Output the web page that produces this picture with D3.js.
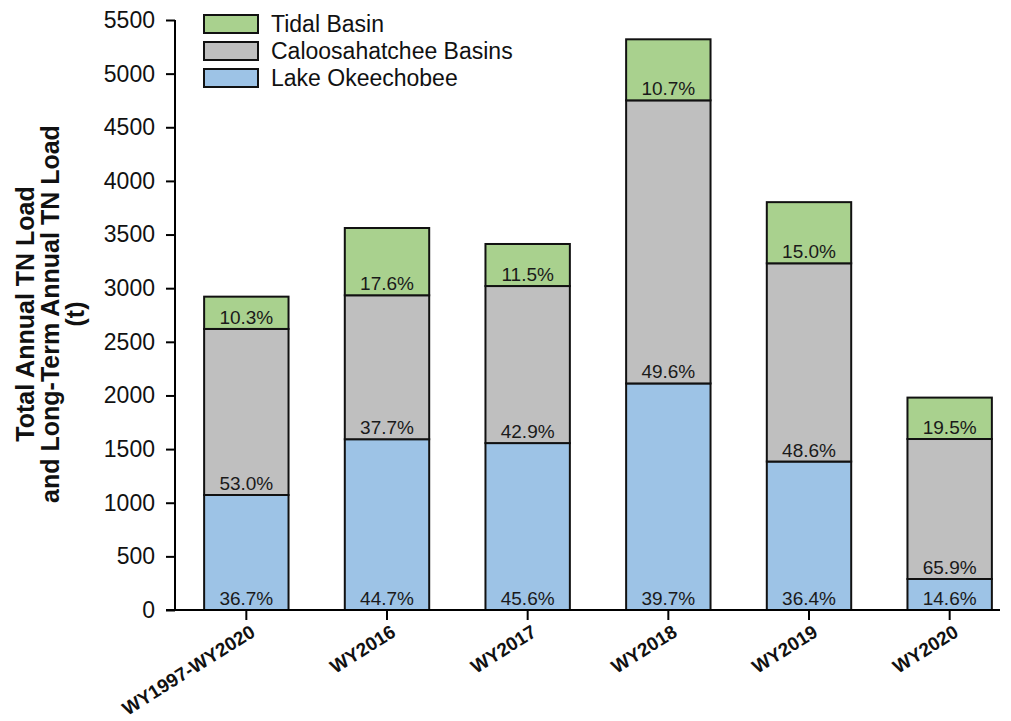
<!DOCTYPE html>
<html>
<head>
<meta charset="utf-8">
<script src="https://cdn.jsdelivr.net/npm/d3@7/dist/d3.min.js"></script>
<style>
  body{margin:0;background:#fff;}
  svg{font-family:Arial,"Liberation Sans",sans-serif;}
</style>
</head>
<body>
<svg id="chart"></svg>
<script>
var categories=['WY1997-WY2020','WY2016','WY2017','WY2018','WY2019','WY2020'];
// loads (t) per basin
var lakeLoad=[1072,1592,1556,2112,1384,289];
var caloosaLoad=[1548,1342,1464,2639,1848,1305];
var tidalLoad=[301,627,392,569,570,386];
// percent labels as printed
var lakePct=['36.7%','44.7%','45.6%','39.7%','36.4%','14.6%'];
var caloosaPct=['53.0%','37.7%','42.9%','49.6%','48.6%','65.9%'];
var tidalPct=['10.3%','17.6%','11.5%','10.7%','15.0%','19.5%'];
var yTicks=[0,500,1000,1500,2000,2500,3000,3500,4000,4500,5000,5500];
var seriesNames=['Tidal Basin','Caloosahatchee Basins','Lake Okeechobee'];

var W=1011,H=721;
var colors={lake:'#9dc3e6',caloosa:'#bfbfbf',tidal:'#a9d18e'};

var svg=d3.select('#chart').attr('width',W).attr('height',H);
var g=svg.append('g');

var y=d3.scaleLinear().domain([0,5500]).range([610,20]);
var x=d3.scaleBand().domain(categories).range([176,1020]).paddingInner(0.4).paddingOuter(0.2);

var rows=categories.map(function(c,i){
  return {cat:c,lake:lakeLoad[i],caloosa:caloosaLoad[i],tidal:tidalLoad[i]};
});
var stack=d3.stack().keys(['lake','caloosa','tidal']);
var layers=stack(rows);
var pcts={lake:lakePct,caloosa:caloosaPct,tidal:tidalPct};

layers.forEach(function(layer){
  var key=layer.key;
  g.selectAll('rect.'+key).data(layer).enter().append('rect')
    .attr('class',key)
    .attr('x',function(d){return x(d.data.cat);})
    .attr('width',x.bandwidth())
    .attr('y',function(d){return y(d[1]);})
    .attr('height',function(d){return y(d[0])-y(d[1]);})
    .attr('fill',colors[key])
    .attr('stroke','#111')
    .attr('stroke-width',2);
  g.selectAll('text.'+key).data(layer).enter().append('text')
    .attr('x',function(d){return x(d.data.cat)+x.bandwidth()/2;})
    .attr('y',function(d){return y(d[0])-5;})
    .attr('text-anchor','middle')
    .attr('font-size',19)
    .attr('fill','#1a1a1a')
    .text(function(d,i){return pcts[key][i];});
});

// y axis
var yAxis=d3.axisLeft(y).tickValues(yTicks).tickSize(9).tickPadding(11).tickFormat(d3.format('d'));
var ya=g.append('g').attr('transform','translate(175,0)').call(yAxis);
ya.select('.domain').attr('stroke','#000').attr('stroke-width',2).attr('d','M0,20V610');
ya.selectAll('.tick line').attr('stroke','#000').attr('stroke-width',2);
ya.selectAll('.tick text').attr('font-size',23).attr('fill','#111').attr('font-family','Arial,"Liberation Sans",sans-serif');

// x axis
var xAxis=d3.axisBottom(x).tickSize(10).tickFormat('');
var xa=g.append('g').attr('transform','translate(0,610)').call(xAxis);
xa.select('.domain').attr('stroke','#000').attr('stroke-width',2).attr('d','M166,0H1000');
xa.selectAll('.tick line').attr('stroke','#000').attr('stroke-width',2);

g.selectAll('text.xlab').data(categories).enter().append('text')
  .attr('class','xlab')
  .attr('transform',function(d){return 'translate('+(x(d)+x.bandwidth()/2+3)+',624) rotate(-32)';})
  .attr('text-anchor','end')
  .attr('dy','0.7em')
  .attr('font-size',19)
  .attr('font-weight','bold')
  .attr('fill','#111')
  .text(function(d){return d;});

// y title
var yt=g.append('text')
  .attr('transform','translate(0,314) rotate(-90)')
  .attr('text-anchor','middle')
  .attr('font-size',25)
  .attr('font-weight','bold')
  .attr('fill','#111');
['Total Annual TN Load','and Long-Term Annual TN Load','(t)'].forEach(function(s,i){
  yt.append('tspan').attr('x',0).attr('y',34+i*25).text(s);
});

// legend
var legColors=[colors.tidal,colors.caloosa,colors.lake];
var leg=g.selectAll('g.leg').data(seriesNames).enter().append('g')
  .attr('class','leg')
  .attr('transform',function(d,i){return 'translate(204,'+(15+i*27)+')';});
leg.append('rect').attr('width',54).attr('height',18)
  .attr('fill',function(d,i){return legColors[i];})
  .attr('stroke','#111').attr('stroke-width',2);
leg.append('text').attr('x',67).attr('y',17).attr('font-size',23).attr('fill','#111')
  .text(function(d){return d;});
</script>
</body>
</html>
